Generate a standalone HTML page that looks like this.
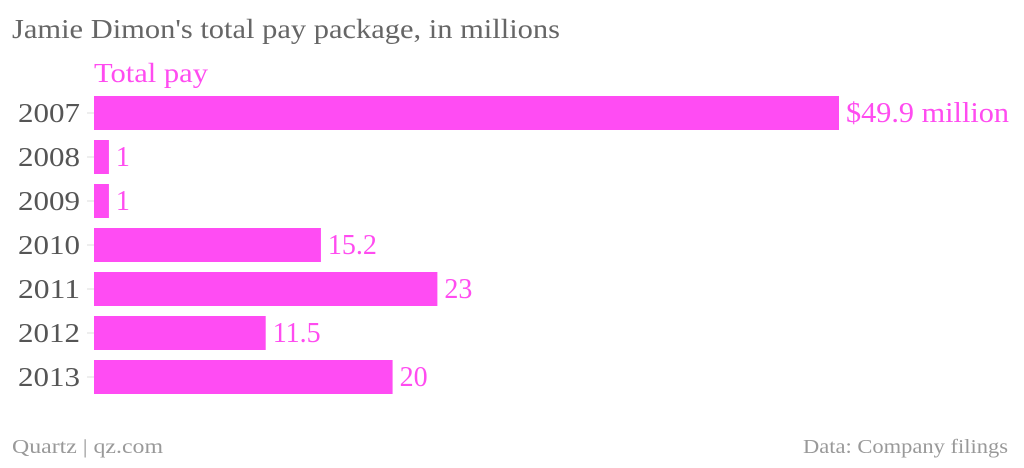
<!DOCTYPE html>
<html><head><meta charset="utf-8"><style>
body{margin:0;background:#fff;}
svg text{font-family:"Liberation Serif",serif;}
</style></head><body>
<svg width="1024" height="463" xmlns="http://www.w3.org/2000/svg">
<text x="12" y="38" font-size="27" fill="#666" textLength="548" lengthAdjust="spacingAndGlyphs">Jamie Dimon's total pay package, in millions</text>
<text x="94" y="82" font-size="27" fill="#ff4cf0" textLength="114" lengthAdjust="spacingAndGlyphs">Total pay</text>
<g id="bars"></g>
<text x="12" y="453" font-size="20" fill="#999" textLength="151" lengthAdjust="spacingAndGlyphs">Quartz | qz.com</text>
<text x="1008" y="453" font-size="20" fill="#999" text-anchor="end" textLength="205" lengthAdjust="spacingAndGlyphs">Data: Company filings</text>
</svg>
<script>
const categories=["2007","2008","2009","2010","2011","2012","2013"];
const values=[49.9,1,1,15.2,23,11.5,20];
const valueLabels=["$49.9 million","1","1","15.2","23","11.5","20"];
const NS="http://www.w3.org/2000/svg";
const x0=94, scale=(839-94)/49.9;
function xs(v){return x0+v*scale;}
function yc(i){return 113+i*44;}
const g=document.getElementById('bars');
categories.forEach((c,i)=>{
  const y=yc(i);
  const t=document.createElementNS(NS,'line');
  t.setAttribute('x1',87);t.setAttribute('x2',94);t.setAttribute('y1',y);t.setAttribute('y2',y);
  t.setAttribute('stroke','#ddd');
  
  
  g.appendChild(t);
  const lab=document.createElementNS(NS,'text');
  lab.setAttribute('x',80);lab.setAttribute('y',y+9);lab.setAttribute('text-anchor','end');
  lab.setAttribute('font-size','27');lab.setAttribute('fill','#555');
  lab.setAttribute('textLength','62');lab.setAttribute('lengthAdjust','spacingAndGlyphs');
  lab.textContent=c;
  
  
  g.appendChild(lab);
  const r=document.createElementNS(NS,'rect');
  r.setAttribute('x',x0);r.setAttribute('y',y-17);r.setAttribute('height',34);
  r.setAttribute('width',xs(values[i])-x0);r.setAttribute('fill','#ff4cf3');
  
  
  g.appendChild(r);
  const v=document.createElementNS(NS,'text');
  v.setAttribute('x',xs(values[i])+7);v.setAttribute('y',y+9);
  v.setAttribute('font-size','28');v.setAttribute('fill','#ff4cf0');
  if(valueLabels[i].length>6){
    v.setAttribute('textLength','163');
    v.setAttribute('lengthAdjust','spacingAndGlyphs');
  }
  v.textContent=valueLabels[i];
  
  
  g.appendChild(v);
});
</script>
</body></html>
